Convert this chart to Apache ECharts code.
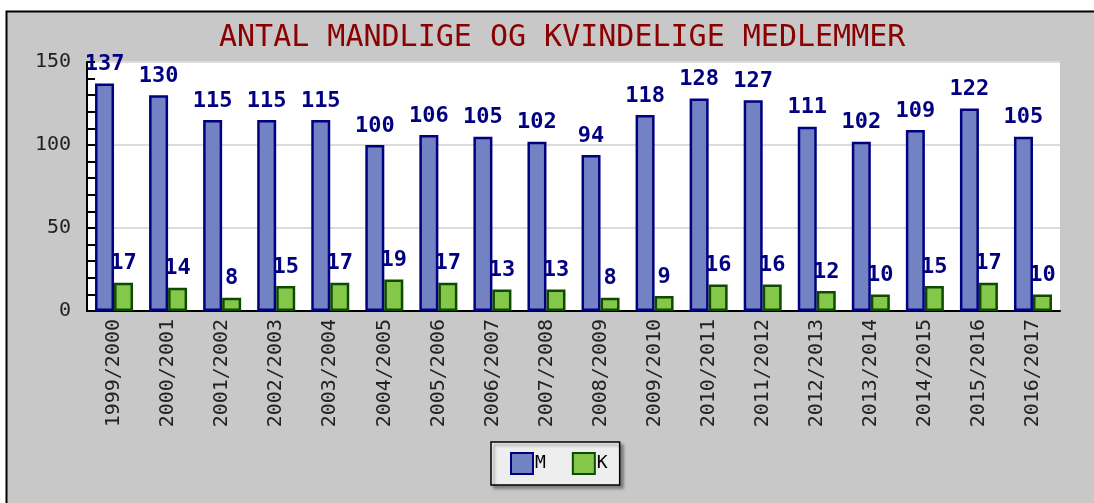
<!DOCTYPE html>
<html>
<head>
<meta charset="utf-8">
<script src="https://cdn.jsdelivr.net/npm/echarts@6/dist/echarts.min.js"></script>
<style>
  html, body { margin: 0; padding: 0; background: #fff; }
  #chart { width: 1094px; height: 503px; }
</style>
</head>
<body>
<div id="chart"></div>
<script>
// seasons
const seasons = ['1999/2000', '2000/2001', '2001/2002', '2002/2003', '2003/2004', '2004/2005',
  '2005/2006', '2006/2007', '2007/2008', '2008/2009', '2009/2010', '2010/2011',
  '2011/2012', '2012/2013', '2013/2014', '2014/2015', '2015/2016', '2016/2017']
// mandlige
const maleCount = [137, 130, 115, 115, 115, 100, 106, 105, 102, 94, 118, 128, 127, 111, 102, 109, 122, 105]
// kvindelige
const femaleCount = [17, 14, 8, 15, 17, 19, 17, 13, 13, 8, 9, 16, 16, 12, 10, 15, 17, 10]

const mono = 'DejaVu Sans Mono'
const chart = echarts.init(document.getElementById('chart'))

const barLabel = {
  show: true,
  position: 'top',
  distance: 8,
  color: '#000080',
  fontFamily: mono,
  fontWeight: 'bold',
  fontSize: 22
}

chart.setOption({
  backgroundColor: '#fff',
  animation: false,
  graphic: [{
    type: 'rect',
    z: -10,
    shape: { x: 6.5, y: 11.5, width: 1100, height: 500 },
    style: { fill: '#c8c8c8', stroke: '#000', lineWidth: 2 }
  }],
  title: {
    text: 'ANTAL MANDLIGE OG KVINDELIGE MEDLEMMER',
    left: 214,
    top: 18,
    textStyle: {
      color: '#8b0000',
      fontFamily: mono,
      fontWeight: 'normal',
      fontSize: 30
    }
  },
  legend: {
    left: 491,
    top: 442,
    padding: [10, 12, 10, 19],
    itemWidth: 22,
    itemHeight: 21,
    itemGap: 26,
    icon: 'rect',
    backgroundColor: '#eeeeee',
    borderColor: '#000',
    borderWidth: 1.5,
    shadowColor: 'rgba(0,0,0,0.35)',
    shadowBlur: 3,
    shadowOffsetX: 3,
    shadowOffsetY: 3,
    textStyle: {
      color: '#000',
      fontFamily: mono,
      fontSize: 18,
      padding: [0, 0, 0, -3]
    },
    data: ['M', 'K']
  },
  grid: {
    left: 87,
    right: 34,
    top: 62,
    bottom: 192,
    show: true,
    backgroundColor: '#fff',
    borderWidth: 0
  },
  xAxis: {
    type: 'category',
    data: seasons,
    boundaryGap: true,
    axisLine: { lineStyle: { color: '#000', width: 2 } },
    axisTick: { inside: true, length: 6, lineStyle: { color: '#000', width: 2 } },
    axisLabel: {
      rotate: 90,
      margin: 8,
      color: '#222',
      fontFamily: mono,
      fontSize: 20
    }
  },
  yAxis: {
    type: 'value',
    min: 0,
    max: 150,
    interval: 50,
    axisLine: { show: true, lineStyle: { color: '#000', width: 2 } },
    axisTick: { show: true, inside: true, length: 8, lineStyle: { color: '#000', width: 2 } },
    minorTick: { show: true, splitNumber: 5, length: 8, lineStyle: { color: '#000', width: 2 } },
    splitLine: { lineStyle: { color: '#dcdcdc', width: 2 } },
    axisLabel: {
      margin: 16,
      color: '#222',
      fontFamily: mono,
      fontSize: 20
    }
  },
  series: [
    {
      name: 'M',
      type: 'bar',
      data: maleCount,
      barWidth: 19,
      barGap: 0,
      itemStyle: { color: '#7282c2', borderColor: '#000080', borderWidth: 2.5 },
      label: barLabel
    },
    {
      name: 'K',
      type: 'bar',
      data: femaleCount,
      barWidth: 19,
      itemStyle: { color: '#84c84a', borderColor: '#0f4a00', borderWidth: 2.5 },
      label: barLabel
    }
  ]
})
</script>
</body>
</html>
